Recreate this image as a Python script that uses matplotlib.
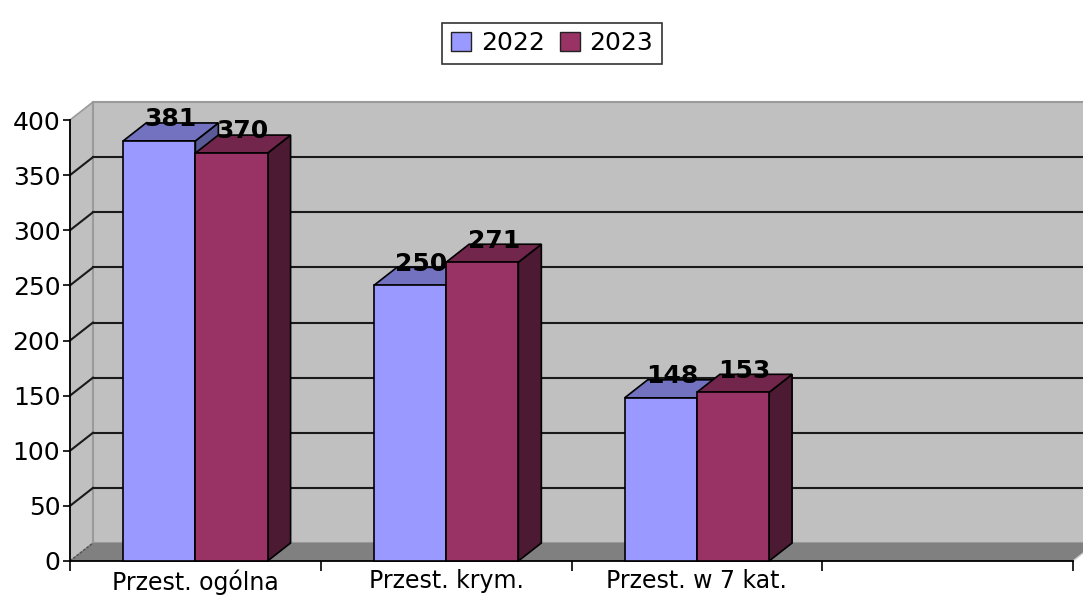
import matplotlib
matplotlib.use("Agg")
import matplotlib.pyplot as plt
from matplotlib.patches import Polygon, Patch
import numpy as np

categories = ["Przest. ogólna", "Przest. krym.", "Przest. w 7 kat.", ""]
series_names = ["2022", "2023"]
values_2022 = [381, 250, 148]
values_2023 = [370, 271, 153]
y_ticks = [0, 50, 100, 150, 200, 250, 300, 350, 400]

front_colors = ["#9999ff", "#993366"]
top_colors = ["#7272c0", "#72264c"]
side_colors = ["#5a5a99", "#4c1a33"]
wall_color = "#c0c0c0"
floor_color = "#808080"

W, H = 1083, 602
fig = plt.figure(figsize=(W / 100, H / 100), dpi=100)
# axes: x 0..4 -> px 70..1073, y 0..400 -> px 561..120
ax = fig.add_axes([70 / W, (H - 561) / H, 1003 / W, 441 / H])
ncat = len(categories)
ymax = 400
ax.set_xlim(0, ncat)
ax.set_ylim(0, ymax)

px_x = 1003 / ncat  # px per category unit
px_y = 441 / ymax   # px per value unit
dx = 23 / px_x
dy = 18 / px_y

# side wall (left)
ax.add_patch(Polygon([(0, 0), (dx, dy), (dx, ymax + dy), (0, ymax)],
                     closed=True, facecolor=wall_color, edgecolor="#9a9a9a",
                     lw=1.2, clip_on=False, zorder=0))
# back wall
ax.add_patch(Polygon([(dx, dy), (ncat + dx, dy), (ncat + dx, ymax + dy), (dx, ymax + dy)],
                     closed=True, facecolor=wall_color, edgecolor="#9a9a9a",
                     lw=1.5, clip_on=False, zorder=0))
# floor
ax.add_patch(Polygon([(0, 0), (ncat, 0), (ncat + dx, dy), (dx, dy)],
                     closed=True, facecolor=floor_color, edgecolor="none",
                     clip_on=False, zorder=0.5))
# gridlines (not at the top edge)
for v in y_ticks[1:-1]:
    ax.plot([dx, ncat + dx], [v + dy, v + dy], color="#1a1a1a", lw=1.5,
            clip_on=False, zorder=1)
    ax.plot([0, dx], [v, v + dy], color="#1a1a1a", lw=1.5,
            clip_on=False, zorder=1)
ax.plot([0, dx], [0, dy], color="#505050", lw=1, ls=(0, (2, 1)), clip_on=False, zorder=1)
ax.plot([ncat, ncat + dx], [0, dy], color="#d0d0d0", lw=1, clip_on=False, zorder=1)

# bars
bw = 0.288
off = 0.212
series = [values_2022, values_2023]
for i in range(len(values_2022)):
    for s in range(2):
        v = series[s][i]
        x0 = i + off + s * bw
        x1 = x0 + bw
        z = 3 + i * 2 + s
        ax.add_patch(Polygon([(x1, 0), (x1 + dx, dy), (x1 + dx, v + dy), (x1, v)],
                             closed=True, facecolor=side_colors[s], edgecolor="black",
                             lw=1.2, zorder=z, clip_on=False))
        ax.add_patch(Polygon([(x0, v), (x1, v), (x1 + dx, v + dy), (x0 + dx, v + dy)],
                             closed=True, facecolor=top_colors[s], edgecolor="black",
                             lw=1.2, zorder=z, clip_on=False))
        ax.add_patch(Polygon([(x0, 0), (x1, 0), (x1, v), (x0, v)],
                             closed=True, facecolor=front_colors[s], edgecolor="black",
                             lw=1.2, zorder=z, clip_on=False))

for i in range(len(values_2022)):
    for s in range(2):
        v = series[s][i]
        xc = i + off + s * bw + bw / 2 + dx / 2
        ax.text(xc, v + dy - 3, str(v), ha="center", va="baseline",
                fontsize=18, fontweight="bold", color="black", zorder=20,
                clip_on=False)

# axes styling
for sp in ["top", "right"]:
    ax.spines[sp].set_visible(False)
ax.spines["left"].set_linewidth(1.3)
ax.spines["bottom"].set_linewidth(1.3)
ax.spines["left"].set_zorder(2)
ax.spines["bottom"].set_zorder(2)
ax.patch.set_visible(False)
ax.set_yticks(y_ticks)
ax.set_yticklabels([str(t) for t in y_ticks], fontsize=18)
ax.tick_params(axis="y", length=5, width=1.2, pad=2)
ax.set_xticks(np.arange(ncat + 1))
ax.set_xticklabels([])
ax.tick_params(axis="x", which="major", length=7, width=1.2)
ax.set_xticks(np.arange(ncat) + 0.5, minor=True)
ax.set_xticklabels(categories, minor=True, fontsize=17)
ax.tick_params(axis="x", which="minor", length=0, pad=6)

handles = [Patch(facecolor=front_colors[k], edgecolor="#222222", lw=1) for k in range(2)]
leg = fig.legend(handles, series_names, loc="center", bbox_to_anchor=(552 / W, 1 - 43.5 / H),
                 ncol=2, fontsize=18, frameon=True, fancybox=False, edgecolor="black",
                 handlelength=0.8, handleheight=0.8, handletextpad=0.4, columnspacing=0.6,
                 borderpad=0.35, borderaxespad=0)
leg.get_frame().set_linewidth(1.2)

fig.savefig("out.png", dpi=100)
